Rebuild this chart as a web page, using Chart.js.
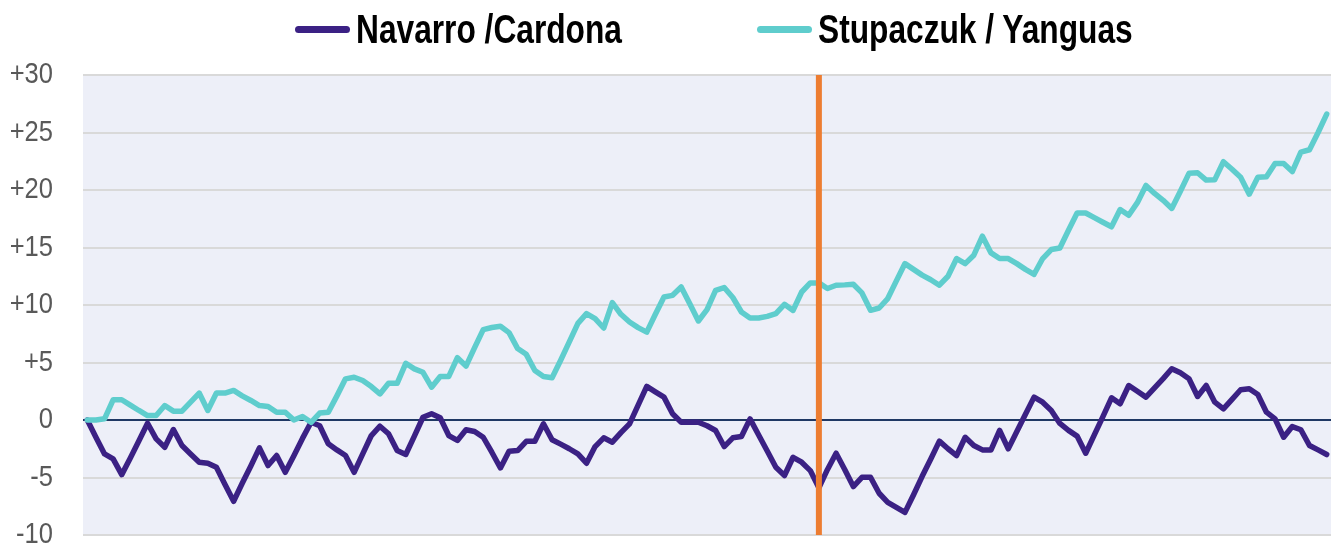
<!DOCTYPE html>
<html>
<head>
<meta charset="utf-8">
<script src="https://cdn.jsdelivr.net/npm/chart.js@4.4.1/dist/chart.umd.min.js"></script>
<style>
  html, body { margin: 0; padding: 0; background: #ffffff; }
  #wrap { position: relative; width: 1333px; height: 550px; overflow: hidden; }
  #c { position: absolute; left: 0; top: 0; }
  .lg { position: absolute; top: 0; height: 58px; display: flex; align-items: center;
        font-family: "Liberation Sans", Arial, sans-serif;
        font-weight: bold; font-size: 41px; color: #000; white-space: nowrap; }
  .lg i { display: inline-block; width: 55px; height: 7px; border-radius: 3.5px; margin-right: 6px; flex: none; }
  .lg span { display: inline-block; transform: scaleX(0.773); transform-origin: 0 50%; }
</style>
</head>
<body>
<div id="wrap">
  <canvas id="c" width="1333" height="550"></canvas>
  <div class="lg" style="left:295px"><i style="background:#3B2184"></i><span>Navarro /Cardona</span></div>
  <div class="lg" style="left:757px"><i style="background:#5FCDCD"></i><span>Stupaczuk / Yanguas</span></div>
</div>
<script>
// Series names
const seriesNames = ["Navarro /Cardona", "Stupaczuk / Yanguas"];

// Navarro / Cardona cumulative values
const navarroCardona = [
  0, -1.5, -2.95, -3.38, -4.75, -3.3, -1.8, -0.28, -1.64, -2.37,
  -0.83, -2.22, -2.95, -3.67, -3.76, -4.11, -5.6, -7.07, -5.5, -4.0,
  -2.42, -3.96, -3.09, -4.55, -3.1, -1.6, -0.19, -0.5, -2.07, -2.6,
  -3.09, -4.55, -2.95, -1.35, -0.54, -1.2, -2.66, -3.0, -1.4, 0.24,
  0.54, 0.19, -1.35, -1.78, -0.85, -1.0, -1.5, -2.8, -4.17, -2.72,
  -2.66, -1.85, -1.85, -0.33, -1.72, -2.1, -2.5, -2.95, -3.76, -2.31,
  -1.55, -1.93, -1.1, -0.33, 1.3, 2.92, 2.45, 1.99, 0.54, -0.19,
  -0.19, -0.19, -0.5, -0.91, -2.31, -1.55, -1.44, 0.1, -1.3, -2.7,
  -4.11, -4.83, -3.24, -3.67, -4.4, -5.9, -4.3, -2.89, -4.3, -5.79,
  -4.98, -4.98, -6.37, -7.16, -7.6, -8.03, -6.5, -4.9, -3.4, -1.84,
  -2.5, -3.09, -1.5, -2.22, -2.6, -2.6, -0.91, -2.51, -1.0, 0.5,
  1.99, 1.55, 0.83, -0.3, -0.9, -1.4, -2.89, -1.3, 0.3, 1.93,
  1.41, 3.0, 2.5, 1.99, 2.8, 3.6, 4.46, 4.1, 3.59, 2.05,
  3.0, 1.55, 0.97, 1.8, 2.63, 2.72, 2.22, 0.68, 0.1, -1.5,
  -0.57, -0.85, -2.22, -2.6, -3.0
];

// Stupaczuk / Yanguas cumulative values
const stupaczukYanguas = [
  0, 0, 0.1, 1.76, 1.76, 1.3, 0.83, 0.39, 0.39, 1.26,
  0.77, 0.77, 1.55, 2.34, 0.83, 2.34, 2.34, 2.57, 2.1, 1.7,
  1.26, 1.18, 0.68, 0.68, 0, 0.3, -0.2, 0.6, 0.68, 2.1,
  3.58, 3.72, 3.43, 2.91, 2.27, 3.19, 3.19, 4.93, 4.45, 4.15,
  2.85, 3.79, 3.79, 5.42, 4.69, 6.3, 7.86, 8.04, 8.15, 7.6,
  6.21, 5.71, 4.31, 3.79, 3.68, 5.2, 6.8, 8.4, 9.25, 8.82,
  8.0, 10.21, 9.19, 8.52, 8.03, 7.64, 9.2, 10.7, 10.84, 11.57,
  10.1, 8.61, 9.6, 11.28, 11.52, 10.65, 9.39, 8.87, 8.87, 9.01,
  9.25, 10.06, 9.53, 11.13, 11.92, 11.92, 11.43, 11.72, 11.75, 11.8,
  11.05, 9.54, 9.74, 10.56, 12.1, 13.6, 13.1, 12.6, 12.2, 11.72,
  12.5, 14.04, 13.6, 14.33, 15.98, 14.53, 14.04, 14.04, 13.6, 13.1,
  12.67, 14.04, 14.82, 14.96, 16.5, 18.0, 18.0, 17.6, 17.2, 16.8,
  18.3, 17.8, 18.9, 20.4, 19.7, 19.1, 18.4, 19.9, 21.45, 21.5,
  20.86, 20.9, 22.46, 21.8, 21.1, 19.64, 21.1, 21.15, 22.3, 22.3,
  21.6, 23.3, 23.5, 25.0, 26.6
];

// Categories: point number in the match
const categories = navarroCardona.map((_, i) => String(i + 1));

// Y axis ticks and their labels
const yTickValues = [-10, -5, 0, 5, 10, 15, 20, 25, 30];
const yTickLabels = ["-10", "-5", "0", "+5", "+10", "+15", "+20", "+25", "+30"];

// Category at which the vertical marker (set change) sits
const markerCategory = categories[85];

const colors = {
  navarro: "#3B2184",
  stupaczuk: "#5FCDCD",
  marker: "#ED7D31",
  plotBg: "#EDEFF8",
  grid: "#D9D9D9",
  zero: "#1F3864",
  tickText: "#595959"
};

const plotBackground = {
  id: "plotBackground",
  beforeDraw(chart) {
    const { ctx, chartArea: a } = chart;
    ctx.save();
    ctx.fillStyle = colors.plotBg;
    ctx.fillRect(a.left, a.top, a.right - a.left, a.bottom - a.top);
    ctx.restore();
  }
};

// Condense the y tick labels horizontally (narrow font look), anchored at their right edge
const narrowTicks = {
  id: "narrowTicks",
  beforeDraw(chart) {
    const s = chart.scales.y;
    if (s && !s._narrowPatched) {
      const orig = s.drawLabels.bind(s);
      s.drawLabels = function (area) {
        const ctx = this.ctx;
        const ax = this.right - this.options.ticks.padding;
        ctx.save();
        ctx.translate(ax, 0);
        ctx.scale(0.88, 1);
        ctx.translate(-ax, 0);
        orig(area);
        ctx.restore();
      };
      s._narrowPatched = true;
    }
  }
};

const markerLine = {
  id: "markerLine",
  afterDatasetsDraw(chart) {
    const { ctx, chartArea: a, scales } = chart;
    const x = scales.x.getPixelForValue(categories.indexOf(markerCategory));
    ctx.save();
    ctx.strokeStyle = colors.marker;
    ctx.lineWidth = 6;
    ctx.beginPath();
    ctx.moveTo(x, a.top);
    ctx.lineTo(x, a.bottom);
    ctx.stroke();
    ctx.restore();
  }
};

new Chart(document.getElementById("c"), {
  type: "line",
  data: {
    labels: categories,
    datasets: [
      {
        label: seriesNames[0],
        data: navarroCardona,
        borderColor: colors.navarro,
        backgroundColor: colors.navarro,
        borderWidth: 5.5,
        pointRadius: 0,
        tension: 0,
        borderJoinStyle: "round",
        borderCapStyle: "round",
        order: 1
      },
      {
        label: seriesNames[1],
        data: stupaczukYanguas,
        borderColor: colors.stupaczuk,
        backgroundColor: colors.stupaczuk,
        borderWidth: 5.5,
        pointRadius: 0,
        tension: 0,
        borderJoinStyle: "round",
        borderCapStyle: "round",
        order: 0
      }
    ]
  },
  options: {
    responsive: false,
    animation: false,
    layout: { padding: { top: 75, right: 2, bottom: 15, left: 0 } },
    plugins: {
      legend: { display: false },
      tooltip: { enabled: false }
    },
    scales: {
      x: {
        type: "category",
        offset: true,
        display: false,
        grid: { display: false }
      },
      y: {
        min: -10,
        max: 30,
        afterFit(scale) {
          scale.width = 83;
          scale.paddingTop = 12;
          scale.paddingBottom = 12;
        },
        afterBuildTicks(scale) { scale.ticks = yTickValues.map(v => ({ value: v })); },
        border: { display: false },
        grid: {
          drawTicks: false,
          lineWidth: 2,
          color: (c) => (c.tick && c.tick.value === 0 ? colors.zero : colors.grid)
        },
        ticks: {
          padding: 30,
          color: colors.tickText,
          font: { family: "'Liberation Sans', Arial, sans-serif", size: 29, lineHeight: 0.8 },
          callback: (v) => yTickLabels[yTickValues.indexOf(v)]
        }
      }
    }
  },
  plugins: [plotBackground, narrowTicks, markerLine]
});
</script>
</body>
</html>
